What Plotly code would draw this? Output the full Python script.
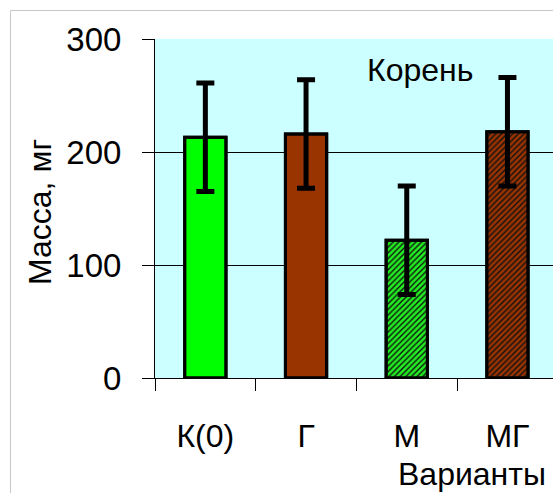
import plotly.graph_objects as go

categories = ["К(0)", "Г", "М", "МГ"]
values = [213, 216, 122, 218]
errors = [48, 48, 48, 48]
colors = ["#00FF00", "#993300", "#22EE22", "#993300"]
patterns = ["", "", "/", "/"]
y_ticks = [0, 100, 200, 300]

FONT = "Liberation Sans, Arial, sans-serif"
W, H = 553, 493
L, T, B = 155, 39, 115
plot_w = W - L
plot_h = H - T - B

def px_x(x):
    return (x - L) / plot_w

def px_y(y):
    return (H - B - y) / plot_h

fig = go.Figure()
# solid fill layer
fig.add_trace(go.Bar(
    x=categories, y=values, width=0.41,
    marker=dict(color=colors, line=dict(color="black", width=3)),
))
# hatch layer + error bars
fig.add_trace(go.Bar(
    x=categories, y=values, width=0.41,
    marker=dict(
        color="rgba(0,0,0,0)",
        line=dict(color="black", width=3),
        pattern=dict(shape=patterns, fgcolor="#111111", fgopacity=1,
                     bgcolor="rgba(0,0,0,0)",
                     size=4, solidity=0.35, fillmode="replace"),
    ),
    error_y=dict(type="data", array=errors, visible=True,
                 color="black", thickness=5, width=9),
))

fig.update_layout(
    width=W, height=H,
    margin=dict(l=L, r=0, t=T, b=B),
    paper_bgcolor="white", plot_bgcolor="#CCFFFF",
    font=dict(family=FONT, size=32, color="black"),
    showlegend=False,
    barmode="overlay",
    xaxis=dict(range=[-0.5, -0.5 + plot_w / 100.7], tickson="boundaries",
               ticks="outside", ticklen=12, tickcolor="black", tickwidth=1,
               showline=True, linecolor="black", linewidth=1,
               showgrid=False, ticklabelstandoff=30,
               tickfont=dict(size=32)),
    yaxis=dict(range=[0, 300], tickvals=y_ticks, ticks="outside", ticklen=12,
               tickcolor="black", tickwidth=1, showline=True,
               linecolor="black", linewidth=1, showgrid=True,
               gridcolor="black", gridwidth=1, zeroline=False,
               ticklabelstandoff=14, tickfont=dict(size=33)),
    annotations=[
        dict(text="Корень", x=px_x(420), y=px_y(70), xref="paper", yref="paper",
             showarrow=False, font=dict(size=32), xanchor="center", yanchor="middle"),
        dict(text="Варианты", x=px_x(472), y=px_y(474), xref="paper", yref="paper",
             showarrow=False, font=dict(size=32), xanchor="center", yanchor="middle"),
        dict(text="Масса, мг", x=px_x(40), y=px_y(212), xref="paper", yref="paper",
             showarrow=False, font=dict(size=32), textangle=-90,
             xanchor="center", yanchor="middle"),
    ],
    shapes=[
        dict(type="line", xref="paper", yref="paper",
             x0=px_x(10.5), x1=px_x(10.5), y0=px_y(10.5), y1=px_y(H + 5),
             line=dict(color="#C8C8C8", width=1)),
        dict(type="line", xref="paper", yref="paper",
             x0=px_x(10.5), x1=px_x(W + 5), y0=px_y(10.5), y1=px_y(10.5),
             line=dict(color="#C8C8C8", width=1)),
    ],
)

fig.write_html("out.html")
